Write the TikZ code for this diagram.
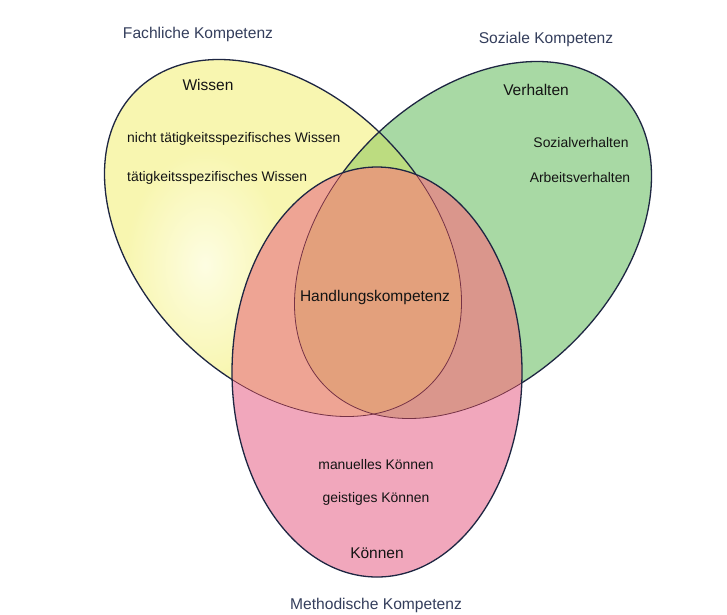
\documentclass[tikz,border=0pt]{standalone}
\usepackage{fontspec}
\setmainfont{Liberation Sans}
\definecolor{yel}{RGB}{248,246,176}
\definecolor{yelc}{RGB}{253,253,226}
\definecolor{grn}{RGB}{168,217,164}
\definecolor{yg}{RGB}{188,220,128}
\definecolor{pnk}{RGB}{241,167,188}
\definecolor{py}{RGB}{238,164,148}
\definecolor{pg}{RGB}{218,150,140}
\definecolor{pyg}{RGB}{227,160,124}
\definecolor{edge}{RGB}{30,38,66}
\definecolor{inner}{RGB}{118,50,70}
\definecolor{txt}{RGB}{20,20,20}
\definecolor{outer}{RGB}{52,62,92}
\begin{document}
\begin{tikzpicture}[x=1pt,y=-1pt,
  yshape/.style={shift={(283,238)},rotate=-45},
  gshape/.style={shift={(473,240)},rotate=45},
  pshape/.style={shift={(377,372)}},
  rim/.style={draw=edge,line width=1.3pt},
  innerrim/.style={draw=inner,line width=0.8pt},
  head/.style={text=txt,font=\fontsize{15.5}{18}\selectfont,inner sep=0pt},
  small/.style={text=txt,font=\fontsize{13.9}{16}\selectfont,inner sep=0pt},
  outerlabel/.style={text=outer,font=\fontsize{15.6}{18}\selectfont,inner sep=0pt}]
\useasboundingbox (0,0) rectangle (727,614);
\fill[white] (0,0) rectangle (727,614);
% yellow and green
\fill[yel,yshape] (0,0) ellipse [x radius=208pt, y radius=143pt];
\begin{scope}
  \clip[yshape] (0,0) ellipse [x radius=208pt, y radius=143pt];
  \shade[inner color=yelc, outer color=yel] (205,265) ellipse [x radius=80pt, y radius=115pt];
\end{scope}
\fill[grn,gshape] (0,0) ellipse [x radius=208pt, y radius=143pt];
\begin{scope}
  \clip[yshape] (0,0) ellipse [x radius=208pt, y radius=143pt];
  \fill[yg,gshape] (0,0) ellipse [x radius=208pt, y radius=143pt];
\end{scope}
\path[rim,yshape] (0,0) ellipse [x radius=208pt, y radius=143pt];
\path[rim,gshape] (0,0) ellipse [x radius=208pt, y radius=143pt];
% pink and its overlaps
\fill[pnk,pshape] (0,0) ellipse [x radius=145pt, y radius=205pt];
\begin{scope}
  \clip[pshape] (0,0) ellipse [x radius=145pt, y radius=205pt];
  \fill[py,yshape] (0,0) ellipse [x radius=208pt, y radius=143pt];
  \fill[pg,gshape] (0,0) ellipse [x radius=208pt, y radius=143pt];
  \clip[yshape] (0,0) ellipse [x radius=208pt, y radius=143pt];
  \fill[pyg,gshape] (0,0) ellipse [x radius=208pt, y radius=143pt];
\end{scope}
\begin{scope}
  \clip[pshape] (0,0) ellipse [x radius=145pt, y radius=205pt];
  \path[innerrim,yshape] (0,0) ellipse [x radius=208pt, y radius=143pt];
  \path[innerrim,gshape] (0,0) ellipse [x radius=208pt, y radius=143pt];
\end{scope}
\path[rim,pshape] (0,0) ellipse [x radius=145pt, y radius=205pt];
% texts
\node[outerlabel] (fach) at (198,34) {Fachliche Kompetenz};
\node[outerlabel] (sozial) at (546,39) {Soziale Kompetenz};
\node[outerlabel] (method) at (376,605) {Methodische Kompetenz};
\node[head] (wissen) at (208,85) {Wissen};
\node[small,anchor=west] (nicht) at (127,139) {nicht tätigkeitsspezifisches Wissen};
\node[small,anchor=west] (taet) at (127,178) {tätigkeitsspezifisches Wissen};
\node[head] (verh) at (536,90) {Verhalten};
\node[small] (sozv) at (581,143) {Sozialverhalten};
\node[small] (arbv) at (580,178) {Arbeitsverhalten};
\node[head] (hand) at (375,297) {Handlungskompetenz};
\node[small] (man) at (376,465) {manuelles Können};
\node[small] (geist) at (376,499) {geistiges Können};
\node[head] (koennen) at (377,553) {Können};
\end{tikzpicture}
\end{document}
